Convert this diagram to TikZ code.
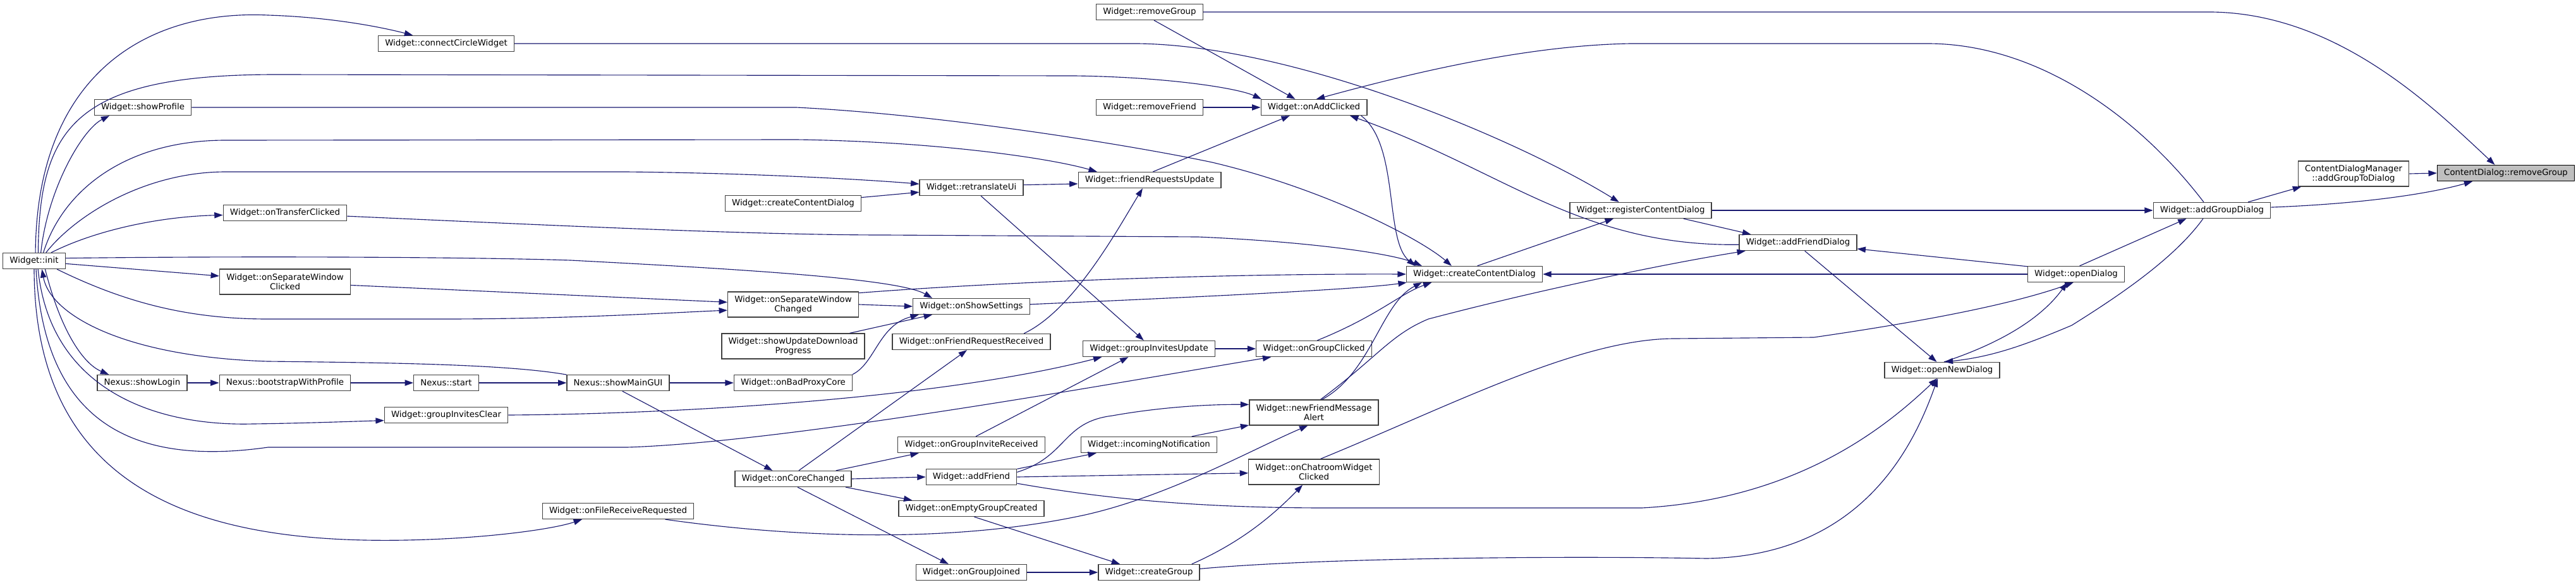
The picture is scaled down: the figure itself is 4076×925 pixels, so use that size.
\documentclass[tikz,border=0pt]{standalone}
\usepackage{fontspec}
\setmainfont{DejaVu Sans}
\usetikzlibrary{arrows.meta}
\definecolor{edgeblue}{HTML}{191970}
\definecolor{boxline}{HTML}{404040}
\definecolor{rootgray}{HTML}{BFBFBF}
\tikzset{
  funcbox/.style={draw=boxline, fill=white, line width=1pt, inner xsep=8pt, inner ysep=2pt,
    minimum height=18.75pt, font=\fontsize{10}{11.5}\selectfont},
  twoline/.style={funcbox, align=center, minimum height=30pt},
  rootbox/.style={funcbox, fill=rootgray, draw=black},
  callline/.style={edgeblue, line width=0.85pt, -{Triangle[length=10pt,width=7pt]}}
}
\begin{document}
\begin{tikzpicture}[x=0.75pt, y=-0.75pt]
        \useasboundingbox (0,0) rectangle (4076,925);
        % 节点
        \node[funcbox] (init) at (54,413) {Widget::init};
        \node[funcbox] (connect) at (706,69) {Widget::connectCircleWidget};
        \node[funcbox] (showProfile) at (226,170) {Widget::showProfile};
        \node[funcbox] (onTransfer) at (451,337) {Widget::onTransferClicked};
        \node[twoline] (onSepClicked) at (451,446) {Widget::onSeparateWindow\\Clicked};
        \node[funcbox] (showLogin) at (225,606) {Nexus::showLogin};
        \node[funcbox] (bootstrap) at (451,606) {Nexus::bootstrapWithProfile};
        \node[funcbox] (nstart) at (706,606) {Nexus::start};
        \node[funcbox] (invClear) at (706,657) {Widget::groupInvitesClear};
        \node[funcbox] (createCDsmall) at (1255,322) {Widget::createContentDialog};
        \node[twoline] (onSepChanged) at (1255,482) {Widget::onSeparateWindow\\Changed};
        \node[twoline] (showUpdate) at (1255,548) {Widget::showUpdateDownload\\Progress};
        \node[funcbox] (showMainGUI) at (978,606) {Nexus::showMainGUI};
        \node[funcbox] (onBadProxy) at (1255,606) {Widget::onBadProxyCore};
        \node[funcbox] (onCoreChanged) at (1255,758) {Widget::onCoreChanged};
        \node[funcbox] (onFileRecv) at (978,809) {Widget::onFileReceiveRequested};
        \node[funcbox] (retranslate) at (1537,297) {Widget::retranslateUi};
        \node[funcbox] (onShowSettings) at (1537,485) {Widget::onShowSettings};
        \node[funcbox] (onFriendReqRecv) at (1537,541) {Widget::onFriendRequestReceived};
        \node[funcbox] (onGroupInvRecv) at (1537,704) {Widget::onGroupInviteReceived};
        \node[funcbox] (addFriend) at (1537,755) {Widget::addFriend};
        \node[funcbox] (onEmptyGroup) at (1537,805) {Widget::onEmptyGroupCreated};
        \node[funcbox] (onGroupJoined) at (1537,906) {Widget::onGroupJoined};
        \node[funcbox] (wRemoveGroup) at (1819,19) {Widget::removeGroup};
        \node[funcbox] (removeFriend) at (1819,170) {Widget::removeFriend};
        \node[funcbox] (friendReqUpd) at (1819,285) {Widget::friendRequestsUpdate};
        \node[funcbox] (invUpdate) at (1818,552) {Widget::groupInvitesUpdate};
        \node[funcbox] (incomingNotif) at (1818,704) {Widget::incomingNotification};
        \node[funcbox] (createGroup) at (1818,906) {Widget::createGroup};
        \node[funcbox] (onAddClicked) at (2079,170) {Widget::onAddClicked};
        \node[funcbox] (onGroupClicked) at (2079,552) {Widget::onGroupClicked};
        \node[twoline] (newFriendMsg) at (2079,653) {Widget::newFriendMessage\\Alert};
        \node[twoline] (onChatroom) at (2079,747) {Widget::onChatroomWidget\\Clicked};
        \node[funcbox] (createCD) at (2333,434) {Widget::createContentDialog};
        \node[funcbox] (registerCD) at (2596,333) {Widget::registerContentDialog};
        \node[funcbox] (addFriendDlg) at (2845,384) {Widget::addFriendDialog};
        \node[funcbox] (openNewDialog) at (3073,586) {Widget::openNewDialog};
        \node[funcbox] (openDialog) at (3285,434) {Widget::openDialog};
        \node[funcbox] (addGroupDlg) at (3500,333) {Widget::addGroupDialog};
        \node[twoline] (addGroupToDlg) at (3724,275) {ContentDialogManager\\::addGroupToDialog};
        \node[rootbox] (cdRemoveGroup) at (3965,274) {ContentDialog::removeGroup};
        % 水平连线
        \foreach \a/\b in {showLogin/bootstrap, bootstrap/nstart, nstart/showMainGUI,
            showMainGUI/onBadProxy, onSepChanged/onShowSettings, onCoreChanged/addFriend,
            removeFriend/onAddClicked, invUpdate/onGroupClicked, onGroupJoined/createGroup,
            registerCD/addGroupDlg, addGroupToDlg/cdRemoveGroup}
            \draw[callline] (\a.east) -- (\b.west);
        \draw[callline] (openDialog.west) -- (createCD.east);
        % Widget::init 出发的连线
        \draw[callline] (init.81) .. controls (58,120) and (230,15) .. (424,24) .. controls (520,27) and (600,42) .. (connect.166);
        \draw[callline] (init.64) .. controls (62,200) and (120,118) .. (437,118) -- (1700,120) .. controls (1850,122) and (1960,140) .. (onAddClicked.171);
        \draw[callline] (init.51) .. controls (75,300) and (130,205) .. (showProfile.194);
        \draw[callline] (init.42) .. controls (100,300) and (200,222) .. (357,222) -- (1260,221) .. controls (1480,224) and (1660,250) .. (friendReqUpd.171);
        \draw[callline] (init.35) .. controls (120,340) and (230,272) .. (357,272) -- (990,272) .. controls (1200,274) and (1380,285) .. (retranslate.176);
        \draw[callline] (init.26) .. controls (150,365) and (250,343) .. (onTransfer.182);
        \draw[callline] (init.5) .. controls (400,405) and (750,407) .. (903,412) .. controls (1150,425) and (1420,440) .. (onShowSettings.168);
        \draw[callline] (init.-5) -- (onSepClicked.175);
        \draw[callline] (init.-20) .. controls (200,480) and (300,505) .. (424,505) -- (700,505) .. controls (900,505) and (1060,495) .. (onSepChanged.185);
        \draw[callline] (init.-37) .. controls (95,520) and (130,575) .. (showLogin.166);
        \draw[callline] (showMainGUI.171) .. controls (800,576) and (600,574) .. (424,572) .. controls (200,565) and (80,500) .. (init.-47);
        \draw[callline] (init.-65) .. controls (80,620) and (250,675) .. (400,671) .. controls (480,670) and (560,667) .. (invClear.185);
        \draw[callline] (init.-77) .. controls (70,660) and (200,740) .. (424,708) -- (992,708) .. controls (1250,700) and (1800,600) .. (onGroupClicked.191);
        \draw[callline] (init.-90) .. controls (55,800) and (350,870) .. (700,853) .. controls (800,848) and (880,836) .. (onFileRecv.193);
        % 左侧其他连线
        \draw[callline] (connect.east) -- (1800,69) .. controls (2050,72) and (2400,220) .. (registerCD.159);
        \draw[callline] (showProfile.east) -- (1260,170) .. controls (1500,182) and (1800,232) .. (1918,257) .. controls (2100,300) and (2250,380) .. (createCD.160);
        \draw[callline] (onTransfer.-3) .. controls (900,358) and (1200,372) .. (1400,372) -- (1896,375) .. controls (2060,382) and (2200,400) .. (createCD.171);
        \draw[callline] (onSepClicked.-3) -- (onSepChanged.178);
        \draw[callline] (onSepChanged.10) .. controls (1600,445) and (1950,433) .. (createCD.west);
        \draw[callline] (showUpdate.13) -- (onShowSettings.192);
        \draw[callline] (onBadProxy.8) .. controls (1385,575) and (1390,515) .. (onShowSettings.189);
        \draw[callline] (onShowSettings.2) .. controls (1900,470) and (2150,458) .. (createCD.187);
        \draw[callline] (showMainGUI.-63) -- (onCoreChanged.158);
        \draw[callline] (onCoreChanged.56) -- (onFriendReqRecv.242);
        \draw[callline] (onCoreChanged.11) -- (onGroupInvRecv.189);
        \draw[callline] (onCoreChanged.-9) -- (onEmptyGroup.172);
        \draw[callline] (onCoreChanged.-62) -- (onGroupJoined.160);
        \draw[callline] (onFileRecv.-10) .. controls (1250,850) and (1500,862) .. (1717,815) .. controls (1850,785) and (1980,712) .. (newFriendMsg.245);
        \draw[callline] (createCDsmall.5) -- (retranslate.185);
        \draw[callline] (retranslate.3) -- (friendReqUpd.183);
        \draw[callline] (retranslate.-41) -- (invUpdate.122);
        \draw[callline] (onFriendReqRecv.9) .. controls (1700,490) and (1770,360) .. (friendReqUpd.230);
        \draw[callline] (friendReqUpd.68) -- (onAddClicked.199);
        \draw[callline] (wRemoveGroup.-62) -- (onAddClicked.156);
        \draw[callline] (invClear.east) .. controls (1100,655) and (1500,628) .. (invUpdate.190);
        \draw[callline] (onGroupInvRecv.62) -- (invUpdate.202);
        \draw[callline] (addFriend.10) -- (incomingNotif.189);
        \draw[callline] (incomingNotif.11) -- (newFriendMsg.191);
        \draw[callline] (addFriend.6) .. controls (1690,722) and (1680,668) .. (1760,658) .. controls (1850,642) and (1930,640) .. (newFriendMsg.173);
        \draw[callline] (addFriend.east) -- (onChatroom.181);
        \draw[callline] (onEmptyGroup.-71) -- (createGroup.164);
        \draw[callline] (createGroup.11) .. controls (1960,860) and (2010,820) .. (onChatroom.229);
        % 右侧连线
        \draw[callline] (onAddClicked.-10) .. controls (2215,230) and (2190,380) .. (createCD.172);
        \draw[callline] (newFriendMsg.58) .. controls (2170,590) and (2185,480) .. (createCD.189);
        \draw[callline] (onGroupClicked.68) .. controls (2180,500) and (2215,465) .. (createCD.191);
        \draw[callline] (newFriendMsg.63) .. controls (2180,565) and (2200,530) .. (2260,505) .. controls (2450,455) and (2650,415) .. (addFriendDlg.189);
        \draw[callline] (createCD.71) -- (registerCD.197);
        \draw[callline] (registerCD.-11) -- (addFriendDlg.170);
        \draw[callline] (openDialog.171) -- (addFriendDlg.-6);
        \draw[callline] (openDialog.67) -- (addGroupDlg.198);
        \draw[callline] (addFriendDlg.182) .. controls (2500,390) and (2380,270) .. (onAddClicked.-13);
        \draw[callline] (addGroupDlg.135) .. controls (3380,180) and (3220,69) .. (3050,69) -- (2580,69) .. controls (2400,72) and (2200,125) .. (onAddClicked.74);
        \draw[callline] (wRemoveGroup.east) -- (3500,19) .. controls (3700,22) and (3850,170) .. (cdRemoveGroup.143);
        \draw[callline] (addFriend.-8) .. controls (1750,790) and (1900,804) .. (2100,804) -- (2598,804) .. controls (2850,790) and (2990,670) .. (openNewDialog.238);
        \draw[callline] (createGroup.4) .. controls (2100,882) and (2500,880) .. (2700,884) .. controls (2950,880) and (3030,700) .. (openNewDialog.242);
        \draw[callline] (onChatroom.63) .. controls (2300,640) and (2500,536) .. (2650,536) -- (2870,534) .. controls (3050,508) and (3190,480) .. (openDialog.252);
        \draw[callline] (openNewDialog.77) .. controls (3190,535) and (3240,490) .. (openDialog.223);
        \draw[callline] (addGroupDlg.223) .. controls (3440,410) and (3350,470) .. (3278,515) .. controls (3200,548) and (3150,565) .. (openNewDialog.74);
        \draw[callline] (addFriendDlg.-51) -- (openNewDialog.123);
        \draw[callline] (addGroupDlg.13) -- (addGroupToDlg.194);
        \draw[callline] (addGroupDlg.3) .. controls (3750,322) and (3850,305) .. (cdRemoveGroup.194);
    \end{tikzpicture}
\end{document}
